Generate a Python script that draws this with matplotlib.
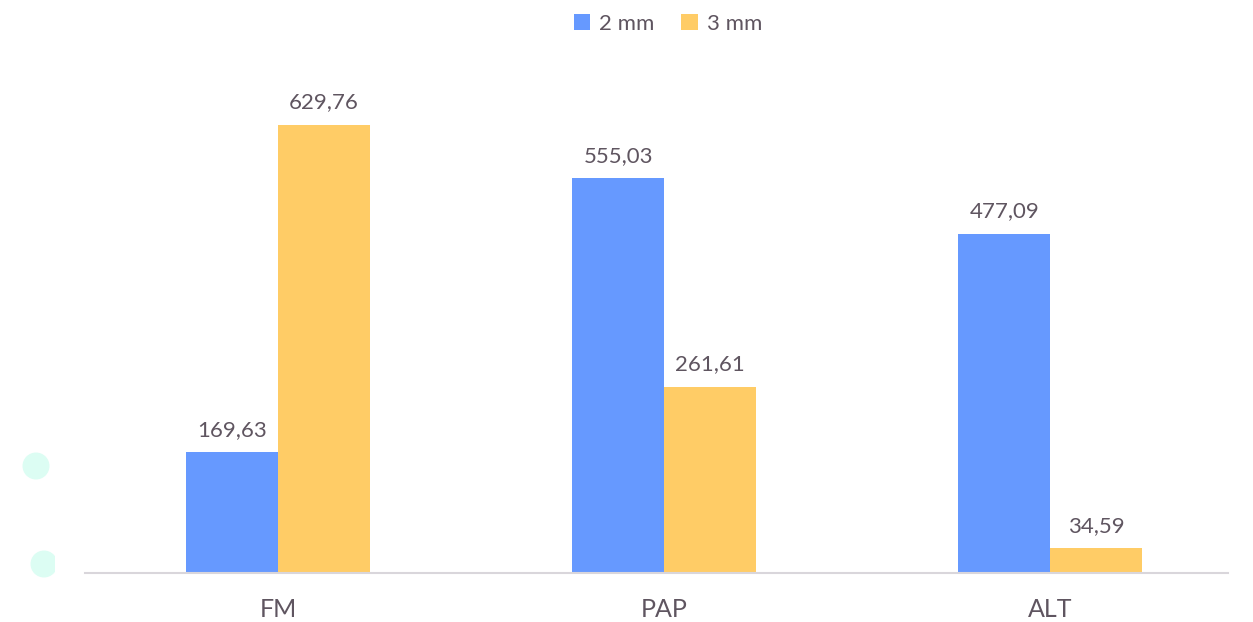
import matplotlib.pyplot as plt
import numpy as np
from matplotlib.patches import Circle, Rectangle

categories = ['FM', 'PAP', 'ALT']
series_names = ['2 mm', '3 mm']
values_2mm = [169.63, 555.03, 477.09]
values_3mm = [629.76, 261.61, 34.59]
colors = ['#6699ff', '#ffcc66']
text_color = '#5f5560'

plt.rcParams['font.family'] = ['Lato', 'DejaVu Sans']

W, H = 1253, 622
fig = plt.figure(figsize=(W / 100, H / 100), dpi=100)

# background decoration (pixel coordinates)
bg = fig.add_axes([0, 0, 1, 1])
bg.set_xlim(0, W)
bg.set_ylim(H, 0)
bg.axis('off')
bg.add_patch(Circle((36, 466), 13.5, color='#dcfdf3', lw=0))
c2 = Circle((44, 564), 13.5, color='#dcfdf3', lw=0)
bg.add_patch(c2)
clip = Rectangle((0, 540), 55, 50, transform=bg.transData)
c2.set_clip_path(clip)

left, right, bottom, top = 85, 1228, 573, 80
ax = fig.add_axes([left / W, 1 - bottom / H, (right - left) / W, (bottom - top) / H])
ax.patch.set_alpha(0)

x = np.arange(len(categories))
w = 0.238
b1 = ax.bar(x - w / 2, values_2mm, w, color=colors[0], label=series_names[0])
b2 = ax.bar(x + w / 2, values_3mm, w, color=colors[1], label=series_names[1])

for bars in (b1, b2):
    for r in bars:
        v = r.get_height()
        ax.annotate(f'{v:.2f}'.replace('.', ','),
                    (r.get_x() + r.get_width() / 2, v),
                    xytext=(0, 9), textcoords='offset points',
                    ha='center', va='bottom', fontsize=16, color=text_color)

ax.set_xlim(-0.5, 2.46)
ax.set_ylim(0, 693)
ax.set_xticks(x)
ax.set_xticklabels(categories, fontsize=18, color=text_color)
ax.tick_params(axis='x', length=0, pad=18)
ax.set_yticks([])
for s in ['top', 'right', 'left']:
    ax.spines[s].set_visible(False)
ax.spines['bottom'].set_color('#d9d6db')
ax.spines['bottom'].set_linewidth(1.5)

fig.legend(loc='upper center', bbox_to_anchor=(668 / W, 1.01), ncol=2, frameon=False,
           fontsize=16, handlelength=0.75, handleheight=0.75, handletextpad=0.4,
           columnspacing=1.2, labelcolor=text_color)

fig.savefig('out.png', dpi=100)
